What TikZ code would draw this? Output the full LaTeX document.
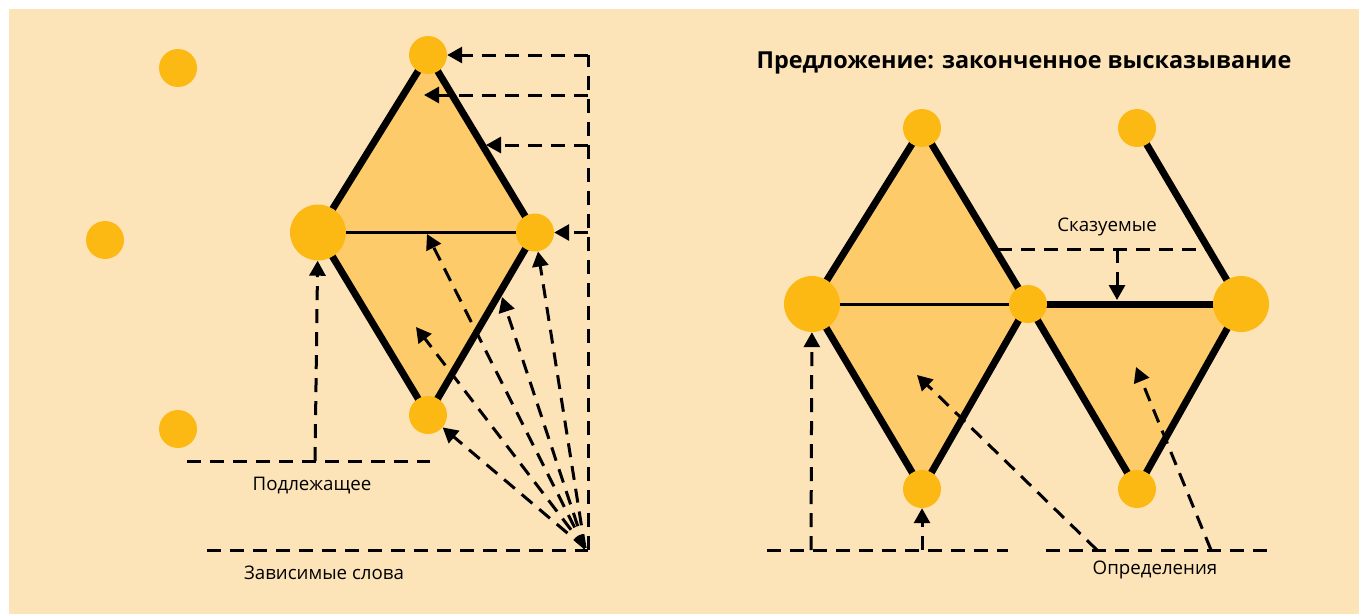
\documentclass[tikz,border=0pt]{standalone}
\usepackage{fontspec}
\setmainfont{Open Sans}
\usetikzlibrary{arrows.meta}
\definecolor{bgc}{HTML}{FDE4B8}
\definecolor{trif}{HTML}{FECB6A}
\definecolor{dotc}{HTML}{FDB913}
\tikzset{
  dot/.style={circle,fill=dotc,inner sep=0pt,minimum size=38pt},
  bigdot/.style={circle,fill=dotc,inner sep=0pt,minimum size=56pt},
  edge/.style={line width=7pt},
  thinedge/.style={line width=3pt},
  darr/.style={line width=3pt,dash pattern=on 14pt off 9pt,-{Triangle[length=15pt,width=16pt]}},
  dline/.style={line width=3pt,dash pattern=on 14pt off 9pt},
  lbl/.style={font=\fontsize{18.7}{22}\selectfont},
}
\begin{document}
\begin{tikzpicture}[x=1pt,y=-1pt]
\useasboundingbox (0,0) rectangle (1359,614);
\fill[bgc] (9,9) rectangle (1359,614);
% ---------- left diagram ----------
\node[dot] (l1) at (178,68) {};
\node[dot] (l2) at (105,240) {};
\node[dot] (l3) at (178,429) {};
\coordinate (At) at (428,55);
\coordinate (Al) at (318,232.5);
\coordinate (Ar) at (535,232.5);
\coordinate (Ab) at (428,415);
\fill[trif] (At) -- (Al) -- (Ar) -- cycle;
\fill[trif] (Al) -- (Ar) -- (Ab) -- cycle;
\draw[edge] (At) -- (Al);
\draw[edge] (At) -- (Ar);
\draw[edge] (Al) -- (Ab);
\draw[edge] (Ar) -- (Ab);
\draw[thinedge] (Al) -- (Ar);
\node[dot] (at) at (At) {};
\node[bigdot] (al) at (Al) {};
\node[dot] (ar) at (Ar) {};
\node[dot] (ab) at (Ab) {};
% right dashed frame
\coordinate (r55) at (588,55);
\coordinate (r95) at (588,95);
\coordinate (r145) at (588,145);
\coordinate (r233) at (588,232.5);
\coordinate (rb) at (588,550);
\coordinate (t95) at (424,95);
\coordinate (t145) at (486,145);
\draw[dline] (rb) -- (r55);
\draw[darr] (r55) -- (at);
\draw[darr] (r95) -- (t95);
\draw[darr] (r145) -- (t145);
\draw[darr] (r233) -- (ar);
% fan
\coordinate (fo) at (585,548);
\coordinate (fm) at (427,234);
\coordinate (fi) at (416,327);
\coordinate (fe) at (502,297);
\draw[darr] (fo) -- (fm);
\draw[darr] (fo) -- (fi);
\draw[darr] (fo) -- (fe);
\draw[darr] (fo) -- (ar);
\draw[darr] (fo) -- (ab);
% bottom lines
\coordinate (zl) at (207,550);
\draw[dline] (zl) -- (rb);
\coordinate (pl) at (187,461);
\coordinate (pr) at (430,461);
\coordinate (pv) at (315,461);
\draw[dline] (pl) -- (pr);
\draw[darr] (pv) -- (al);
\node[lbl] (podl) at (312,486) {Подлежащее};
\node[lbl] (zav) at (324,573) {Зависимые слова};
% ---------- right diagram ----------
\node[font=\fontsize{23.4}{28}\selectfont\bfseries] (title) at (1024,63) {Предложение: законченное высказывание};
\coordinate (Bt) at (922,128);
\coordinate (Bl) at (812,304);
\coordinate (Bm) at (1028,304);
\coordinate (Bb) at (922,489);
\coordinate (Ct) at (1137,128);
\coordinate (Cr) at (1241,304);
\coordinate (Cb) at (1137,489);
\fill[trif] (Bt) -- (Bl) -- (Bm) -- cycle;
\fill[trif] (Bl) -- (Bm) -- (Bb) -- cycle;
\fill[trif] (Bm) -- (Cr) -- (Cb) -- cycle;
\draw[edge] (Bt) -- (Bl);
\draw[edge] (Bt) -- (Bm);
\draw[edge] (Bl) -- (Bb);
\draw[edge] (Bm) -- (Bb);
\draw[thinedge] (Bl) -- (Bm);
\draw[edge] (Bm) -- (Cr);
\draw[edge] (Bm) -- (Cb);
\draw[edge] (Cr) -- (Cb);
\draw[edge] (Ct) -- (Cr);
\node[dot] (bt) at (Bt) {};
\node[bigdot] (bl) at (Bl) {};
\node[dot] (bm) at (Bm) {};
\node[dot] (bb) at (Bb) {};
\node[dot] (ct) at (Ct) {};
\node[bigdot] (cr) at (Cr) {};
\node[dot] (cb) at (Cb) {};
% Сказуемые
\coordinate (sl) at (998,249);
\coordinate (sr) at (1207,249);
\coordinate (sv) at (1117,249);
\coordinate (sa) at (1117,300);
\draw[dline] (sl) -- (sr);
\draw[darr] (sv) -- (sa);
\node[lbl] (skaz) at (1107,227) {Сказуемые};
% Определения
\coordinate (ol1) at (767,550);
\coordinate (or1) at (1008,550);
\coordinate (ol2) at (1046,550);
\coordinate (or2) at (1276,550);
\draw[dline] (ol1) -- (or1);
\draw[dline] (ol2) -- (or2);
\coordinate (ov1) at (811,550);
\coordinate (ov2) at (922,550);
\coordinate (od1) at (1097,550);
\coordinate (od2) at (1211,550);
\coordinate (ot1) at (917,375);
\coordinate (ot2) at (1136,367);
\draw[darr] (ov1) -- (bl);
\draw[darr] (ov2) -- (bb);
\draw[darr] (od1) -- (ot1);
\draw[darr] (od2) -- (ot2);
\node[lbl] (opr) at (1155,570) {Определения};
\end{tikzpicture}
\end{document}
